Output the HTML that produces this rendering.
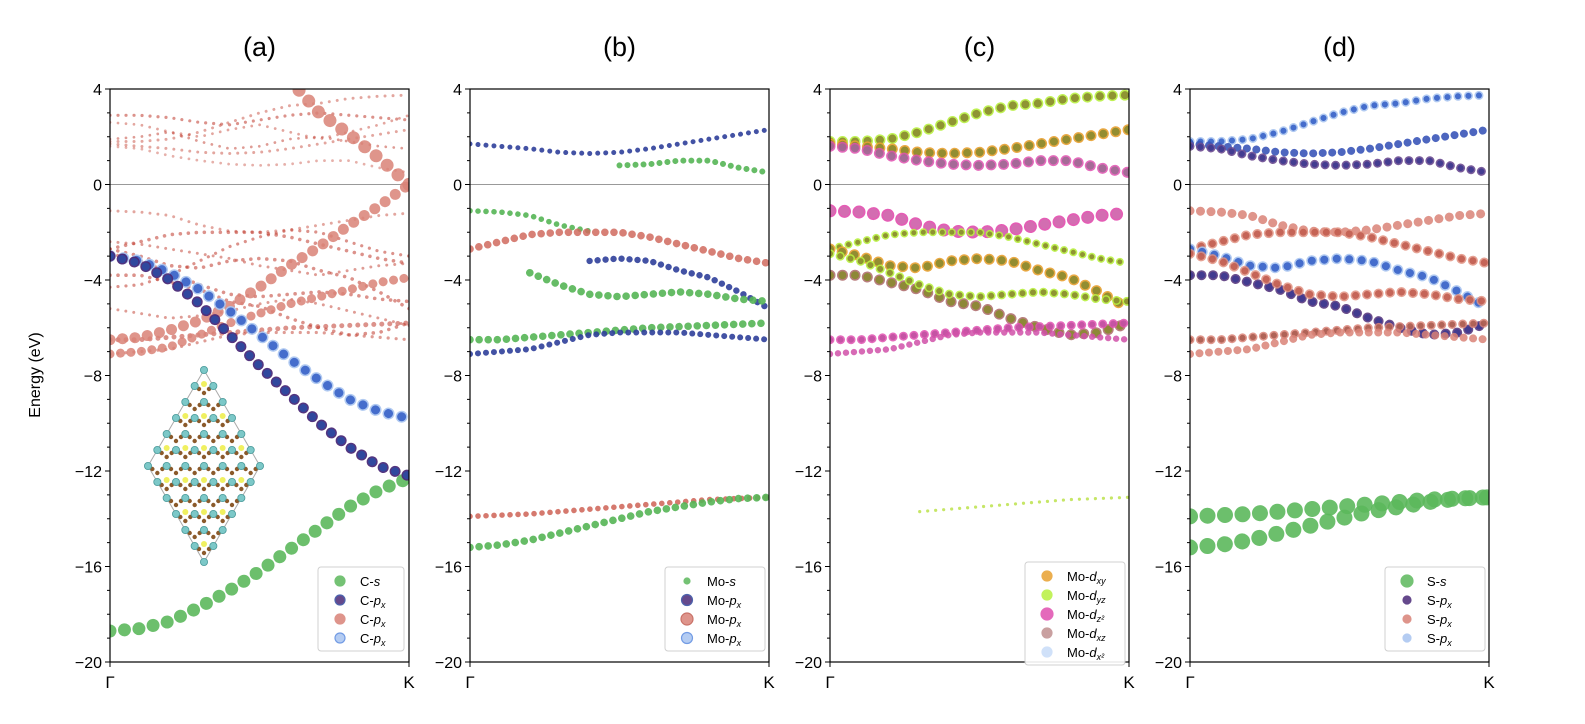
<!DOCTYPE html>
<html><head><meta charset="utf-8"><style>
html,body{margin:0;padding:0;background:#fff;}
svg{display:block;font-family:"Liberation Sans",sans-serif;}
</style></head><body>
<svg id="fig" width="1585" height="724" viewBox="0 0 1585 724" xmlns="http://www.w3.org/2000/svg"></svg>
<script>
// ---- data (energies in eV at k = 0,0.1,...,1 from Γ to K) ----
const kPts = [0,0.1,0.2,0.3,0.4,0.5,0.6,0.7,0.8,0.9,1.0];
const yTicks = [4,0,-4,-8,-12,-16,-20];
const panelTitles = ["(a)","(b)","(c)","(d)"];
// graphene (C) bands
const gS   = [-18.7,-18.6,-18.3,-17.7,-17.0,-16.2,-15.3,-14.4,-13.5,-12.8,-12.3];
const gPx1 = [-3.0,-3.3,-4.0,-5.0,-6.3,-7.6,-8.8,-10.0,-11.0,-11.8,-12.2];
const gPx2 = [-3.0,-3.2,-3.7,-4.4,-5.3,-6.3,-7.3,-8.2,-9.0,-9.5,-9.8];
const gPzUp = [null,null,null,null,null,null,4.4,3.0,2.1,1.1,0.0];
const gPzLo = [-6.5,-6.4,-6.1,-5.7,-5.1,-4.3,-3.4,-2.6,-1.7,-0.9,0.0];
const gPz2  = [-7.1,-7.0,-6.8,-6.3,-5.8,-5.4,-5.0,-4.7,-4.4,-4.1,-3.9];
const gFold1 = [2.9,2.9,2.8,2.6,2.5,2.7,2.9,3.0,2.9,2.8,2.7];
const gFold2 = [1.9,2.0,2.2,1.8,1.5,1.6,1.9,2.0,1.8,1.6,1.5];
const gFold3 = [-4.3,-4.2,-3.8,-3.2,-2.6,-2.2,-1.9,-2.0,-2.4,-2.8,-3.0];
const gFold4 = [2.6,2.5,2.2,2.0,2.3,2.5,2.2,1.9,2.2,2.5,2.9];
const gFold5 = [-2.4,-2.5,-2.7,-2.9,-3.1,-3.4,-3.6,-3.8,-3.6,-3.4,-3.3];
const gFold6 = [-5.2,-5.4,-5.6,-5.5,-5.3,-5.0,-4.8,-5.0,-5.3,-5.6,-5.9];
// MoS2 bands
const cb1 = [1.8,1.8,1.9,2.2,2.6,3.0,3.3,3.4,3.6,3.7,3.75];
const cb2 = [1.7,1.6,1.5,1.35,1.3,1.35,1.5,1.7,1.9,2.1,2.3];
const cb3 = [1.6,1.5,1.2,1.0,0.85,0.8,0.85,1.0,1.0,0.7,0.5];
const vb1 = [-1.1,-1.15,-1.3,-1.7,-1.95,-2.0,-1.9,-1.7,-1.5,-1.3,-1.2];
const vb2 = [-2.7,-2.4,-2.1,-2.0,-2.0,-2.0,-2.2,-2.5,-2.8,-3.1,-3.3];
const vb3 = [-2.7,-3.0,-3.4,-3.5,-3.2,-3.1,-3.2,-3.6,-3.9,-4.5,-5.2];
const vb4 = [-3.8,-3.8,-4.1,-4.4,-4.9,-5.1,-5.6,-6.0,-6.3,-6.2,-5.8];
const vb5 = [-2.9,-3.2,-3.7,-4.2,-4.6,-4.7,-4.6,-4.5,-4.6,-4.8,-4.9];
const vb6 = [-6.5,-6.5,-6.4,-6.3,-6.2,-6.1,-6.0,-5.95,-5.9,-5.85,-5.8];
const vb7 = [-7.1,-7.0,-6.9,-6.6,-6.3,-6.2,-6.2,-6.2,-6.3,-6.4,-6.5];
const deep1 = [-13.9,-13.85,-13.8,-13.7,-13.6,-13.5,-13.4,-13.3,-13.2,-13.15,-13.1];
const deep2 = [-15.2,-15.1,-14.9,-14.6,-14.3,-14.0,-13.7,-13.5,-13.3,-13.15,-13.1];

// ---- layout ----
const panelX = [110,470,830,1190];
const panelW = 299, yTop = 89, yBot = 662;
const eMin = -20, eMax = 4;
const NS = "http://www.w3.org/2000/svg";
const svg = document.getElementById('fig');
function el(tag, attrs, parent){ const e=document.createElementNS(NS,tag); for(const k in attrs) e.setAttribute(k,attrs[k]); (parent||svg).appendChild(e); return e; }
function yScale(E){ return yTop + (eMax-E)/(eMax-eMin)*(yBot-yTop); }
function xScale(p,k){ return panelX[p] + k*panelW; }

// band styles per panel: [data, fill, ring, radius, opacity, kStart, kEnd]
const specs = [
 [ [gFold1,'#c0392b',null,1.6,0.55,0,1],[gFold2,'#c0392b',null,1.4,0.5,0,1],[gFold3,'#c0392b',null,1.6,0.55,0,1],
   [gFold4,'#c0392b',null,1.4,0.45,0,1],[gFold5,'#c0392b',null,1.5,0.5,0,1],[gFold6,'#c0392b',null,1.5,0.5,0,1],
   [cb1,'#c0392b',null,1.5,0.45,0,1],[cb2,'#c0392b',null,1.5,0.45,0,1],[cb3,'#c0392b',null,1.4,0.4,0,1],[vb1,'#c0392b',null,1.5,0.45,0,1],
   [vb2,'#c0392b',null,1.8,0.55,0,1],[vb3,'#c0392b',null,1.8,0.55,0,1],[vb4,'#c0392b',null,1.8,0.55,0,1],
   [vb5,'#c0392b',null,1.8,0.55,0,1],[vb6,'#c0392b',null,2.5,0.55,0,1],[vb7,'#c0392b',null,1.6,0.5,0,1],
   [gPz2,'#d98277',null,4.5,0.85,0,1],[gPzLo,'#d98277',null,5.5,0.85,0,1],[gPzUp,'#d98277',null,6.5,0.85,0,1],
   [gS,'#5cb85c',null,6.5,0.9,0,1],
   [gPx2,'#3a63c8','#a8c4f0',6,0.9,0,1],[gPx1,'#2e4aa0','#4b2a78',5.5,0.95,0,1] ],
 [ [cb2,'#2f3f9a',null,2.5,0.9,0,1],[cb3,'#55b555',null,3,0.9,0.5,1],[vb1,'#55b555',null,2.8,0.9,0,0.45],
   [vb2,'#d06a5e',null,3.8,0.85,0,1],[vb3,'#2f3f9a',null,3.2,0.9,0.35,1],[vb5,'#55b555',null,3.8,0.9,0.15,1],
   [vb6,'#55b555',null,3.8,0.9,0,1],[vb7,'#2f3f9a',null,3,0.9,0,1],
   [deep1,'#d06a5e',null,2.8,0.9,0,1],[deep2,'#55b555',null,3.8,0.9,0,1] ],
 [ [cb1,'#8a8a30','#b8f040',5.5,0.9,0,1],[cb2,'#8a8a30','#e8a030',5.5,0.9,0,1],[cb3,'#9a6a90','#e050b0',5.5,0.85,0,1],
   [vb1,'#d070b0','#e040a8',6.5,0.85,0,1],[vb2,'#8a8a30','#b8f040',4,0.9,0,1],[vb3,'#8a8a30','#e8a030',5.5,0.9,0,1],
   [vb4,'#8a8a30','#b07070',5.5,0.9,0,1],[vb5,'#8a8a30','#b8f040',4.5,0.9,0,1],
   [vb6,'#c050a0','#e050b0',4.5,0.85,0,1],[vb7,'#d050a8',null,3.2,0.85,0,1],
   [deep1,'#b8e040',null,1.6,0.8,0.25,1] ],
 [ [cb1,'#3a63c8','#a8c4f0',4.5,0.9,0,1],[cb2,'#3a55b8',null,4,0.9,0,1],[cb3,'#3e3a90','#6a4a90',4.5,0.9,0,1],
   [vb1,'#d98277',null,4.5,0.85,0,1],[vb2,'#c05a4e','#e09080',5,0.85,0,1],[vb3,'#3a63c8','#a8c4f0',5.5,0.9,0,1],
   [vb4,'#3e3a90','#5a3a80',5,0.9,0,1],[vb5,'#c05a4e','#e09080',5,0.85,0,1],
   [vb6,'#a85a4e','#d98277',4.5,0.85,0,1],[vb7,'#d98277',null,4,0.85,0,1],
   [deep1,'#5cb85c',null,8,0.9,0,1],[deep2,'#5cb85c',null,8,0.9,0,1] ]
];

for(let p=0;p<4;p++){
  const g = el('g',{});
  
  
  const cid='clip'+p;
  const cp = el('clipPath',{id:cid},g); el('rect',{x:panelX[p],y:yTop,width:panelW,height:yBot-yTop},cp);
  const zl = el('line',{x1:panelX[p],x2:panelX[p]+panelW,y1:yScale(0),y2:yScale(0),stroke:'#999','stroke-width':1},g);
  
  
  const bands = el('g',{'clip-path':'url(#'+cid+')'},g);
  specs[p].forEach((s,i)=>{
    const [data,fill,ring,r,op,k0,k1] = s;
    let d='';
    data.forEach((E,j)=>{ if(E===null||kPts[j]<k0-1e-6||kPts[j]>k1+1e-6) return; d+=(d?'L':'M')+xScale(p,kPts[j]).toFixed(1)+' '+yScale(E).toFixed(1); });
    const gap = Math.max(8, r*2+1.5);
    if(ring){
      const o = el('path',{d:d,fill:'none',stroke:ring,'stroke-width':2*r,'stroke-linecap':'round','stroke-dasharray':'0.01 '+gap,opacity:op},bands);
      
      
    }
    const b = el('path',{d:d,fill:'none',stroke:fill,'stroke-width':ring?2*r-3:2*r,'stroke-linecap':'round','stroke-dasharray':'0.01 '+gap,opacity:op},bands);
    
    
  });
  const fr = el('rect',{x:panelX[p],y:yTop,width:panelW,height:yBot-yTop,fill:'none',stroke:'#000','stroke-width':1.2},g);
  
  
  for(let E=eMin;E<=eMax;E++){
    const major = (E%4===0);
    el('line',{x1:panelX[p]-(major?5:3),x2:panelX[p],y1:yScale(E),y2:yScale(E),stroke:'#000','stroke-width':1},g);
  }
  yTicks.forEach(E=>{
    const t = el('text',{x:panelX[p]-8,y:yScale(E)+6,'text-anchor':'end','font-size':16},g);
    t.textContent = String(E).replace('-','\u2212');
    
    
  });
  [['Γ',0],['K',1]].forEach(([lab,k])=>{
    el('line',{x1:xScale(p,k),x2:xScale(p,k),y1:yBot,y2:yBot+5,stroke:'#000','stroke-width':1},g);
    const t = el('text',{x:xScale(p,k),y:yBot+26,'text-anchor':'middle','font-size':17},g);
    t.textContent = lab;
    
    
  });
  const tt = el('text',{x:panelX[p]+panelW/2,y:56,'text-anchor':'middle','font-size':27},g);
  tt.textContent = panelTitles[p];
  
  
}
const yl = el('text',{x:0,y:0,'text-anchor':'middle','font-size':16,transform:'translate(40,375) rotate(-90)'});
yl.textContent='Energy (eV)';



// inset crystal structure (decorative)
(function(){
  const g = el('g',{});
  
  
  const T=[204,370], L=[148,466], R=[260,466], B=[204,562];
  el('polygon',{points:[T,R,B,L].map(p=>p.join(',')).join(' '),fill:'none',stroke:'#aaa','stroke-width':1},g);
  const n=6;
  const a=[(R[0]-T[0])/n,(R[1]-T[1])/n], b=[(L[0]-T[0])/n,(L[1]-T[1])/n];
  for(let i=0;i<=n;i++)for(let j=0;j<=n;j++){
    const x=T[0]+i*a[0]+j*b[0], y=T[1]+i*a[1]+j*b[1];
    el('circle',{cx:x,cy:y,r:3.6,fill:'#7cc8c8',stroke:'#4a9a9a','stroke-width':0.8},g);
    if(i<n&&j<n){
      const cx=x+(a[0]+b[0])/2, cy=y+(a[1]+b[1])/2;
      if((i+j)%2===0) el('circle',{cx:cx,cy:cy-2,r:3,fill:'#f0f060'},g);
      el('circle',{cx:cx-5,cy:cy+3,r:2.2,fill:'#8b5a2b'},g);
      el('circle',{cx:cx+5,cy:cy+3,r:2.2,fill:'#8b5a2b'},g);
      el('circle',{cx:cx,cy:cy+7,r:2.2,fill:'#8b5a2b'},g);
    }
  }
})();

// legends
const legs = [
 {x:318,y:567,w:86,items:[['C-','s','','#5cb85c',null,5],['C-','p','x','#4b2a78','#2e4aa0',5],['C-','p','x','#d98277',null,5],['C-','p','x','#a8c4f0','#5a8ae0',5]]},
 {x:665,y:567,w:100,items:[['Mo-','s','','#5cb85c',null,3],['Mo-','p','x','#4b2a78','#2e4aa0',5.5],['Mo-','p','x','#d98277','#c05a4e',6],['Mo-','p','x','#a8c4f0','#5a8ae0',5.5]]},
 {x:1025,y:562,w:100,items:[['Mo-','d','xy','#e8a030',null,5],['Mo-','d','yz','#b8f040',null,5],['Mo-','d','z²','#e050b0',null,6],['Mo-','d','xz','#c09090',null,5],['Mo-','d','x²','#c8dcf8',null,5]]},
 {x:1385,y:567,w:100,items:[['S-','s','','#5cb85c',null,6],['S-','p','x','#4b2a78',null,4],['S-','p','x','#d98277',null,4],['S-','p','x','#a8c4f0',null,4]]}
];
legs.forEach((L,li)=>{
  const g = el('g',{});
  
  
  const h = L.items.length*19+8;
  el('rect',{x:L.x,y:L.y,width:L.w,height:h,rx:3,fill:'#fff',stroke:'#ccc','stroke-width':1,opacity:0.9},g);
  L.items.forEach((it,i)=>{
    const cy = L.y+14+i*19;
    const c = el('circle',{cx:L.x+22,cy:cy,r:it[5],fill:it[3],stroke:it[4]||it[3],'stroke-width':1.2,opacity:0.85},g);
    
    
    const t = el('text',{x:L.x+42,y:cy+5,'font-size':13},g);
    
    
    const s1=document.createElementNS(NS,'tspan'); s1.textContent=it[0]; t.appendChild(s1);
    const s2=document.createElementNS(NS,'tspan'); s2.setAttribute('font-style','italic'); s2.textContent=it[1]; t.appendChild(s2);
    if(it[2]){ const s3=document.createElementNS(NS,'tspan'); s3.setAttribute('font-style','italic'); s3.setAttribute('font-size','9'); s3.setAttribute('dy','3'); s3.textContent=it[2]; t.appendChild(s3); }
  });
});
</script>
</body></html>
